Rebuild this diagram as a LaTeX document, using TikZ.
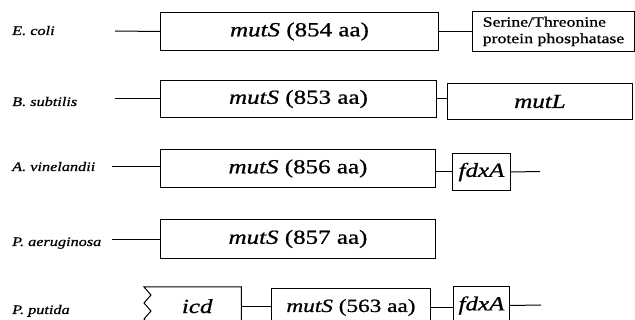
\documentclass[tikz,border=0pt]{standalone}
\usepackage{fontspec}
\setmainfont{Liberation Serif}[FakeStretch=1.25, FakeBold=0.8]
\begin{document}
\begin{tikzpicture}[x=1pt,y=-1pt,
  gene/.style={draw, line width=1pt, inner sep=0pt, anchor=north west,
    font=\fontsize{20}{23}\selectfont},
  link/.style={line width=1pt},
  org/.style={anchor=base west, inner sep=0pt,
    font=\fontsize{13}{15}\selectfont\itshape}]
\useasboundingbox (0,0) rectangle (635,320);
\clip (0,0) rectangle (635,320);

% organism names
\node[org] (o1) at (12,35)  {E.\ coli};
\node[org] (o2) at (12,106) {B.\ subtilis};
\node[org] (o3) at (12,171) {A.\ vinelandii};
\node[org] (o4) at (12,246) {P.\ aeruginosa};
\node[org] (o5) at (12,314) {P.\ putida};

% E. coli
\node[gene, minimum width=278pt, minimum height=38pt] (m1) at (160,12)
  {\textit{mutS} (854 aa)};
\node[gene, minimum width=162pt, minimum height=40pt, align=left,
  font=\fontsize{14.2}{16.5}\selectfont] (s1) at (472,11)
  {Serine/Threonine\\protein phosphatase};
\coordinate (a1) at (115,31);
\draw[link] (a1) -- (m1.west);
\draw[link] (m1.east) -- (m1.east -| s1.west);

% B. subtilis
\node[gene, minimum width=276pt, minimum height=37pt] (m2) at (160,80)
  {\textit{mutS} (853 aa)};
\node[gene, minimum width=185pt, minimum height=36pt] (l2) at (447,83)
  {\textit{mutL}};
\coordinate (a2) at (115,99);
\draw[link] (a2) -- (m2.west);
\draw[link] (m2.east) -- (m2.east -| l2.west);

% A. vinelandii
\node[gene, minimum width=275pt, minimum height=38pt] (m3) at (160,149)
  {\textit{mutS} (856 aa)};
\node[gene, minimum width=58pt, minimum height=37pt] (f3) at (452,153)
  {\textit{fdxA}};
\coordinate (a3) at (112,167);
\coordinate (e3) at (540,171.5);
\draw[link] (a3) -- (a3 -| m3.west);
\draw[link] (f3.west -| m3.east) -- (f3.west);
\draw[link] (f3.east) -- (e3);

% P. aeruginosa
\node[gene, minimum width=275pt, minimum height=39pt] (m4) at (160,219)
  {\textit{mutS} (857 aa)};
\coordinate (a4) at (112,240);
\draw[link] (a4) -- (a4 -| m4.west);

% P. putida: icd is cut off on its left by a zigzag edge
\node[inner sep=0pt, anchor=north west, minimum width=88pt, minimum height=38pt,
  font=\fontsize{20}{23}\selectfont] (icd) at (153,287) {\textit{icd}};
\draw[link, line join=miter] (icd.south east) -- (icd.north east) -- (144,287)
  -- ++(7,8) -- ++(-7,8) -- ++(7,8) -- ++(-7,8) -- ++(7,8);
\node[gene, minimum width=159pt, minimum height=38pt,
  font=\fontsize{18.6}{21}\selectfont] (m5) at (271,288)
  {\textit{mutS} (563 aa)};
\node[gene, minimum width=56pt, minimum height=38pt] (f5) at (453,286)
  {\textit{fdxA}};
\coordinate (e5) at (541,305);
\draw[link] (icd.east) -- (icd.east -| m5.west);
\draw[link] (m5.east) -- (m5.east -| f5.west);
\draw[link] (f5.east) -- (e5);
\end{tikzpicture}
\end{document}
